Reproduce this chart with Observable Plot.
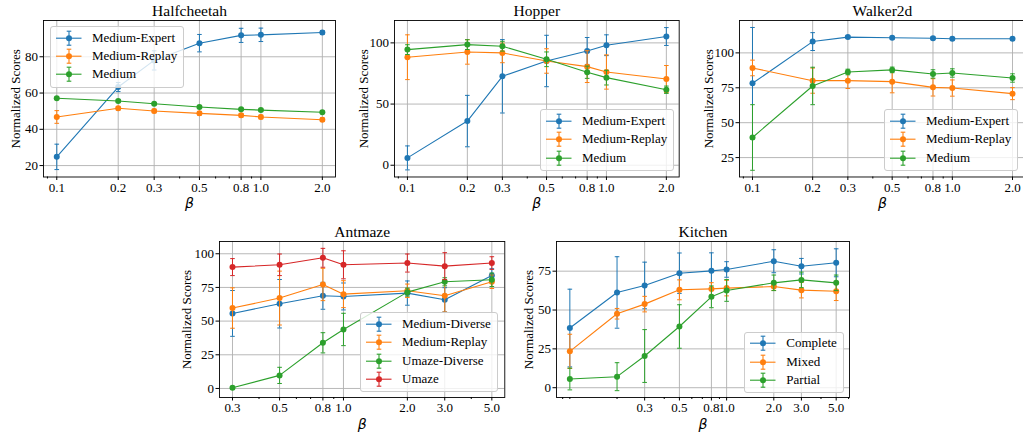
<!DOCTYPE html>
<html><head><meta charset="utf-8">
<script src="https://cdn.jsdelivr.net/npm/d3@7"></script>
<script src="https://cdn.jsdelivr.net/npm/@observablehq/plot@0.6"></script>
<style>
body{margin:0;background:#fff;}
#fig{position:relative;width:1023px;height:436px;overflow:hidden;background:#fff;font-family:"Liberation Serif","Times New Roman",serif;}
#fig svg.panel{position:absolute;overflow:visible;}
.legend{position:absolute;background:rgba(255,255,255,0.8);border:1px solid #cccccc;border-radius:3px;padding:1.5px 6px 3px 0;font-size:13px;color:#000;}
.legend .row{display:flex;align-items:center;height:18.4px;white-space:nowrap;}
.legend .row svg{flex:none;}
</style></head><body><div id="fig"></div>
<script>
// ---------- data ----------
const betaMujoco = [0.1, 0.2, 0.3, 0.5, 0.8, 1.0, 2.0];
const betaAntmaze = [0.3, 0.5, 0.8, 1.0, 2.0, 3.0, 5.0];
const betaKitchen = [0.1, 0.2, 0.3, 0.5, 0.8, 1.0, 2.0, 3.0, 5.0];
const xTicksMujoco = [0.1, 0.2, 0.3, 0.5, 0.8, 1.0, 2.0];
const xTicksAntmaze = [0.3, 0.5, 0.8, 1.0, 2.0, 3.0, 5.0];
const xTicksKitchen = [0.3, 0.5, 0.8, 1.0, 2.0, 3.0, 5.0];
const yTicksHalfcheetah = [20, 40, 60, 80];
const yTicksHopper = [0, 50, 100];
const yTicksWalker = [25, 50, 75, 100];
const yTicksAntmaze = [0, 25, 50, 75, 100];
const yTicksKitchen = [0, 25, 50, 75];

const hcMediumExpert = [24.8, 63.3, 78.0, 87.5, 91.8, 92.1, 93.4];
const hcMediumExpertErr = [7.0, 2.5, 5.3, 4.8, 3.9, 3.7, 1.0];
const hcMediumReplay = [46.8, 51.6, 50.1, 48.8, 47.7, 46.8, 45.3];
const hcMediumReplayErr = [3.5, 1.0, 1.0, 1.0, 1.0, 1.0, 1.0];
const hcMedium = [57.1, 55.6, 54.1, 52.3, 51.0, 50.6, 49.4];
const hcMediumErr = [0.6, 0.8, 0.6, 0.6, 0.6, 0.6, 0.6];

const hopMediumExpert = [6.0, 36.1, 72.7, 85.2, 93.4, 98.1, 105.2];
const hopMediumExpertErr = [9.8, 21, 30, 21, 11, 8.5, 7.3];
const hopMediumReplay = [88.3, 92.6, 91.8, 85.2, 80.6, 76.2, 70.5];
const hopMediumReplayErr = [18.3, 10, 8, 10, 13, 14, 11];
const hopMedium = [94.5, 98.6, 97.3, 86.6, 76.0, 71.6, 61.7];
const hopMediumErr = [4, 4, 4, 6, 5, 6, 3];

const wkMediumExpert = [78.2, 108.1, 111.3, 110.8, 110.5, 110.1, 110.1];
const wkMediumExpertErr = [40, 6.4, 1, 1, 1, 1, 1];
const wkMediumReplay = [89.2, 80.1, 80.1, 79.4, 75.3, 74.8, 70.8];
const wkMediumReplayErr = [5.6, 9, 5.6, 8, 6.2, 5.8, 4.3];
const wkMedium = [39.4, 76.3, 86.3, 87.8, 84.9, 85.6, 82.0];
const wkMediumErr = [23.5, 13.4, 2, 2, 3, 3, 3];

const amMediumDiverse = [55.7, 62.9, 68.8, 68.3, 70.8, 65.8, 83.9];
const amMediumDiverseErr = [17, 18, 10, 10, 9, 9, 5];
const amMediumReplay = [59.7, 67.1, 77.2, 70.0, 72.5, 68.8, 79.2];
const amMediumReplayErr = [15, 20, 12, 10, 5, 12, 5];
const amUmazeDiverse = [0.5, 9.7, 33.9, 43.8, 71.5, 79.2, 80.7];
const amUmazeDiverseErr = [1, 6, 7.5, 12, 3, 3, 5];
const amUmaze = [90.1, 91.8, 97.0, 91.8, 93.1, 90.8, 93.1];
const amUmazeErr = [6.3, 8, 7, 10.4, 6.7, 10, 4.7];

const kiComplete = [38.4, 61.3, 65.8, 73.7, 75.2, 76.1, 81.4, 78.2, 80.4];
const kiCompleteErr = [25, 23, 15, 13, 11.6, 5, 7.4, 5, 9];
const kiMixed = [23.4, 47.6, 53.8, 63.0, 63.6, 64.1, 65.1, 62.8, 62.1];
const kiMixedErr = [11, 3.4, 5, 6.4, 4, 5, 2.5, 5, 6];
const kiPartial = [5.6, 7.1, 20.4, 39.4, 58.5, 62.6, 67.5, 69.4, 67.5];
const kiPartialErr = [7, 9, 17, 14, 7, 7, 5, 5, 5];

const C = {blue:"#1f77b4", orange:"#ff7f0e", green:"#2ca02c", red:"#d62728"};
const SERIF = "'Liberation Serif', 'Times New Roman', serif";

// ---------- drawing ----------
const fig = document.getElementById("fig");
const capSymbol = {draw(ctx){ ctx.moveTo(-2.3,0); ctx.lineTo(2.3,0); }};

function minorTicks(domain, majors){
  const out=[];
  for(let e=-3;e<=2;e++) for(let m=1;m<=9;m++){
    const v=+(m*Math.pow(10,e)).toPrecision(3);
    if(v>=domain[0]&&v<=domain[1]&&!majors.some(t=>Math.abs(t-v)<1e-9)) out.push(v);
  }
  return out;
}

function panel(cfg){
  const [L,T,R,B]=cfg.frame;
  const mL=50,mR=8,mT=26,mB=40;
  const series=cfg.series.map(s=>({...s,rows:s.values.map((v,i)=>({x:cfg.beta[i],y:v,e:s.errs[i]}))}));
  const marks=[
    Plot.gridX(cfg.xTicks,{stroke:"#b0b0b0",strokeOpacity:1,strokeWidth:0.9}),
    Plot.gridY(cfg.yTicks,{stroke:"#b0b0b0",strokeOpacity:1,strokeWidth:0.9})
  ];
  for(const s of series){
    marks.push(
      Plot.ruleX(s.rows,{x:"x",y1:d=>d.y-d.e,y2:d=>d.y+d.e,stroke:s.color,strokeWidth:1}),
      Plot.dot(s.rows,{x:"x",y:d=>d.y+d.e,symbol:capSymbol,r:2,stroke:s.color,strokeWidth:1,fill:"none"}),
      Plot.dot(s.rows,{x:"x",y:d=>d.y-d.e,symbol:capSymbol,r:2,stroke:s.color,strokeWidth:1,fill:"none"}),
      Plot.line(s.rows,{x:"x",y:"y",stroke:s.color,strokeWidth:1.1}),
      Plot.dot(s.rows,{x:"x",y:"y",r:3,fill:s.color,stroke:"none"})
    );
  }
  marks.push(
    Plot.frame({stroke:"#000",strokeWidth:0.9}),
    Plot.axisX(cfg.xTicks,{text:d=>d.toFixed(1),tickSize:3.5,tickPadding:2,label:null,fontSize:13,fontFamily:SERIF}),
    Plot.axisX(minorTicks(cfg.xDomain,cfg.xTicks),{text:()=>"",tickSize:2,label:null}),
    Plot.axisY(cfg.yTicks,{text:d=>String(d),tickSize:3.5,tickPadding:2,label:null,fontSize:13,fontFamily:SERIF}),
    Plot.text([cfg.title],{text:d=>d,frameAnchor:"top",dy:-9,fontSize:15.5,textAnchor:"middle",lineAnchor:"middle",fontFamily:SERIF}),
    Plot.text(["Normalized Scores"],{text:d=>d,frameAnchor:"left",dx:-cfg.ylabelOffset,rotate:-90,textAnchor:"middle",lineAnchor:"middle",fontSize:13,fontFamily:SERIF}),
    Plot.text(["β"],{text:d=>d,frameAnchor:"bottom",dy:27,textAnchor:"middle",lineAnchor:"middle",fontFamily:"'DejaVu Sans'",fontStyle:"italic",fontSize:14})
  );
  const svg=Plot.plot({
    width:(R-L)+mL+mR,height:(B-T)+mT+mB,
    marginLeft:mL,marginRight:mR,marginTop:mT,marginBottom:mB,
    style:{fontFamily:SERIF,fontSize:"13px",background:"transparent",color:"#000"},
    x:{type:"log",domain:cfg.xDomain},
    y:{domain:cfg.yDomain},
    marks
  });
  svg.classList.add("panel");
  svg.style.left=(L-mL)+"px";
  svg.style.top=(T-mT)+"px";
  fig.appendChild(svg);

  // legend
  const lg=document.createElement("div");
  lg.className="legend";
  lg.style.left=cfg.legendPos[0]+"px";
  lg.style.top=cfg.legendPos[1]+"px";
  for(const s of series){
    const row=document.createElement("div");
    row.className="row";
    row.innerHTML=`<svg width="41" height="18.4"><g stroke="${s.color}" stroke-width="1.1">
      <line x1="5" x2="30.5" y1="9.2" y2="9.2"/><line x1="18" x2="18" y1="2.2" y2="16.2"/>
      <line x1="15.7" x2="20.3" y1="2.2" y2="2.2"/><line x1="15.7" x2="20.3" y1="16.2" y2="16.2"/></g>
      <circle cx="18" cy="9.2" r="3" fill="${s.color}"/></svg><span>${s.name}</span>`;
    lg.appendChild(row);
  }
  fig.appendChild(lg);
}

const mujocoDomain=[0.0861,2.32];

panel({title:"Halfcheetah",frame:[43,19.5,335,176],beta:betaMujoco,xTicks:xTicksMujoco,xDomain:mujocoDomain,
  yDomain:[13.7,100],yTicks:yTicksHalfcheetah,ylabelOffset:28,legendPos:[50,26],
  series:[{name:"Medium-Expert",color:C.blue,values:hcMediumExpert,errs:hcMediumExpertErr},
          {name:"Medium-Replay",color:C.orange,values:hcMediumReplay,errs:hcMediumReplayErr},
          {name:"Medium",color:C.green,values:hcMedium,errs:hcMediumErr}]});

panel({title:"Hopper",frame:[394.3,19.5,679,176],beta:betaMujoco,xTicks:xTicksMujoco,xDomain:mujocoDomain,
  yDomain:[-9.6,118.3],yTicks:yTicksHopper,ylabelOffset:31,legendPos:[540,109.3],
  series:[{name:"Medium-Expert",color:C.blue,values:hopMediumExpert,errs:hopMediumExpertErr},
          {name:"Medium-Replay",color:C.orange,values:hopMediumReplay,errs:hopMediumReplayErr},
          {name:"Medium",color:C.green,values:hopMedium,errs:hopMediumErr}]});

panel({title:"Walker2d",frame:[738.7,19.5,1024.6,176],beta:betaMujoco,xTicks:xTicksMujoco,xDomain:mujocoDomain,
  yDomain:[11.1,123.2],yTicks:yTicksWalker,ylabelOffset:30.5,legendPos:[884,109.3],
  series:[{name:"Medium-Expert",color:C.blue,values:wkMediumExpert,errs:wkMediumExpertErr},
          {name:"Medium-Replay",color:C.orange,values:wkMediumReplay,errs:wkMediumReplayErr},
          {name:"Medium",color:C.green,values:wkMedium,errs:wkMediumErr}]});

panel({title:"Antmaze",frame:[218.7,241,504,397],beta:betaAntmaze,xTicks:xTicksAntmaze,xDomain:[0.2606,5.754],
  yDomain:[-6.7,109.1],yTicks:yTicksAntmaze,ylabelOffset:33,legendPos:[360,312.3],
  series:[{name:"Medium-Diverse",color:C.blue,values:amMediumDiverse,errs:amMediumDiverseErr},
          {name:"Medium-Replay",color:C.orange,values:amMediumReplay,errs:amMediumReplayErr},
          {name:"Umaze-Diverse",color:C.green,values:amUmazeDiverse,errs:amUmazeDiverseErr},
          {name:"Umaze",color:C.red,values:amUmaze,errs:amUmazeErr}]});

panel({title:"Kitchen",frame:[556,241,849,397],beta:betaKitchen,xTicks:xTicksKitchen,xDomain:[0.0822,6.08],
  yDomain:[-6.3,94.1],yTicks:yTicksKitchen,ylabelOffset:28,legendPos:[744.3,331.7],
  series:[{name:"Complete",color:C.blue,values:kiComplete,errs:kiCompleteErr},
          {name:"Mixed",color:C.orange,values:kiMixed,errs:kiMixedErr},
          {name:"Partial",color:C.green,values:kiPartial,errs:kiPartialErr}]});
</script></body></html>
